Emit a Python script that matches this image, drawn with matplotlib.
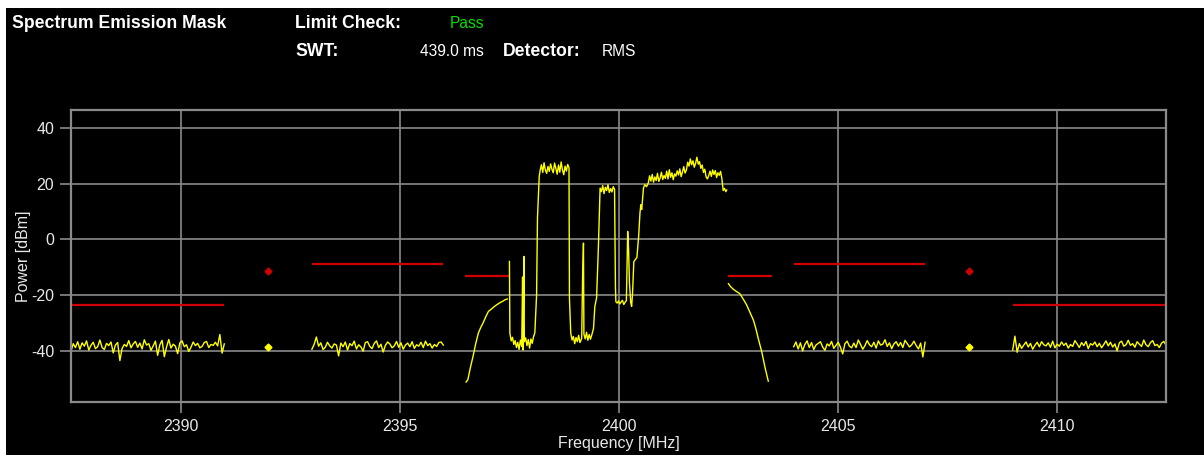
import numpy as np
import matplotlib
matplotlib.use("Agg")
import matplotlib.pyplot as plt
from matplotlib.patches import Rectangle

plt.rcParams['font.family'] = ['Liberation Sans', 'DejaVu Sans']

# ---------------- data ----------------
x_ticks = [2390, 2395, 2400, 2405, 2410]
y_ticks = [-40, -20, 0, 20, 40]

# limit (mask) lines: (start, stop, level)
mask_start = [2387.5, 2393.0, 2396.5, 2402.5, 2404.0, 2409.0]
mask_stop = [2391.0, 2396.0, 2397.5, 2403.5, 2407.0, 2412.5]
mask_level = [-23.5, -8.7, -13.0, -13.0, -8.7, -23.5]

# single-point ranges
point_freq = [2392.0, 2408.0]
point_limit = [-11.3, -11.3]
point_power = [-38.6, -38.6]

# trace segments (uniform sweep points)
segA_range = (2387.5, 2391.0)
segA = [-40.2, -37.5, -38.9, -36.8, -39.5, -37.2, -38.4, -36.5, -39.8, -38.1, -37.0, -39.3, -38.6, -36.2,
        -38.9, -39.6, -37.4, -38.2, -36.9, -40.8, -38.0, -37.1, -43.6, -39.2, -37.8, -38.5, -36.4, -39.0,
        -37.6, -36.7, -38.8, -37.3, -39.4, -36.1, -38.0, -37.5, -39.9, -38.3, -36.6, -41.7, -37.9, -36.3,
        -42.2, -38.7, -36.0, -39.1, -37.7, -38.4, -41.1, -37.2, -36.5, -38.6, -37.9, -40.3, -38.8, -36.9,
        -38.2, -37.4, -39.0, -38.5, -37.1, -36.7, -38.9, -37.8, -38.1, -37.0, -38.3, -34.2, -40.9, -37.6]

segB_range = (2393.0, 2396.0)
segB = [-39.5, -37.8, -35.1, -38.4, -37.2, -39.6, -38.8, -37.0, -38.3, -39.1, -37.6, -38.0, -41.9, -37.3,
        -38.6, -36.9, -39.8, -37.5, -38.2, -36.6, -39.4, -37.9, -38.7, -40.2, -37.1, -36.8, -38.5, -39.3,
        -37.4, -36.5, -38.9, -37.7, -40.5, -38.1, -36.9, -37.6, -39.0, -38.3, -36.7, -38.8, -37.2, -39.5,
        -38.0, -37.3, -38.6, -36.8, -39.2, -37.9, -38.4, -37.0, -38.9, -36.6, -38.2, -37.5, -39.1, -37.8,
        -38.5, -37.1, -36.9, -38.0]

segC_range = (2404.0, 2407.0)
segC = [-38.6, -36.9, -39.4, -37.2, -40.1, -37.8, -36.5, -38.9, -37.1, -39.6, -38.0, -37.4, -36.8, -38.7,
        -39.9, -37.6, -38.3, -36.7, -39.2, -38.1, -37.0, -38.8, -41.2, -37.5, -36.6, -38.4, -39.0, -37.3,
        -38.9, -36.2, -37.8, -39.5, -38.2, -36.4, -37.9, -38.6, -37.0, -39.1, -36.5, -38.0, -37.7, -36.1,
        -38.5, -37.2, -39.3, -37.6, -36.8, -38.4, -37.1, -38.9, -36.3, -37.5, -38.7, -37.9, -36.6, -38.2,
        -39.4, -37.3, -42.3, -37.0]

segD_range = (2409.0, 2412.5)
segD = [-39.8, -34.8, -40.6, -37.5, -39.2, -38.0, -36.9, -38.7, -37.4, -39.5, -38.1, -37.0, -38.6, -36.8,
        -37.9, -38.3, -37.2, -38.8, -36.6, -39.0, -37.7, -38.4, -36.9, -38.1, -37.3, -39.1, -37.8, -38.5,
        -36.4, -37.6, -38.9, -37.1, -38.2, -36.7, -39.3, -37.5, -38.0, -36.9, -38.6, -37.4, -39.0, -37.8,
        -36.5, -38.3, -37.0, -38.7, -37.6, -40.1, -37.2, -36.6, -38.4, -37.9, -36.3, -38.1, -37.5, -38.8,
        -36.8, -37.7, -38.5, -36.2, -37.9, -38.6, -37.1, -36.4, -38.2, -37.8, -38.9, -37.3, -36.7, -38.0]

# left filter skirt
rampL_f = [2396.52, 2396.56, 2396.62, 2396.68, 2396.74, 2396.80, 2396.86, 2396.91, 2396.97, 2397.03,
           2397.10, 2397.16, 2397.22, 2397.29, 2397.35, 2397.41, 2397.46]
rampL_p = [-51.3, -50.5, -46.0, -42.0, -37.5, -33.7, -31.5, -30.0, -27.8, -25.9,
           -25.0, -24.2, -23.5, -22.8, -22.3, -21.7, -21.4]

# right filter skirt
rampR_f = [2402.51, 2402.56, 2402.62, 2402.70, 2402.77, 2402.85, 2402.93, 2403.00, 2403.08, 2403.14,
           2403.19, 2403.27, 2403.35, 2403.42]
rampR_p = [-15.9, -17.0, -17.9, -18.8, -19.5, -21.5, -23.7, -26.2, -29.0, -32.3,
           -35.6, -40.4, -46.4, -51.0]

# in-band signal
sig_f = [2397.51, 2397.52, 2397.55, 2397.58, 2397.61, 2397.64, 2397.67, 2397.70, 2397.73, 2397.76,
         2397.79, 2397.81, 2397.82, 2397.84, 2397.85, 2397.88, 2397.91, 2397.94, 2397.97, 2398.00,
         2398.03, 2398.06, 2398.09, 2398.13, 2398.15, 2398.19, 2398.21, 2398.24, 2398.27, 2398.30,
         2398.33, 2398.36, 2398.39, 2398.42, 2398.45, 2398.48, 2398.51, 2398.54, 2398.57, 2398.60,
         2398.63, 2398.66, 2398.69, 2398.72, 2398.75, 2398.78, 2398.81, 2398.84, 2398.87, 2398.88,
         2398.91, 2398.94, 2398.97, 2399.00, 2399.03, 2399.06, 2399.09, 2399.12, 2399.16, 2399.18,
         2399.20, 2399.21, 2399.24, 2399.27, 2399.30, 2399.33, 2399.36, 2399.40, 2399.43, 2399.46,
         2399.50, 2399.54, 2399.58, 2399.61, 2399.64, 2399.67, 2399.70, 2399.73, 2399.76, 2399.79,
         2399.82, 2399.85, 2399.88, 2399.91, 2399.93, 2399.94, 2399.97, 2400.00, 2400.03, 2400.06,
         2400.09, 2400.12, 2400.15, 2400.18, 2400.21, 2400.23, 2400.25, 2400.28, 2400.30, 2400.32,
         2400.35, 2400.38, 2400.42, 2400.46, 2400.49, 2400.51, 2400.53, 2400.57, 2400.60, 2400.64,
         2400.68, 2400.71, 2400.74, 2400.77, 2400.80, 2400.83, 2400.86, 2400.89, 2400.92, 2400.95,
         2400.98, 2401.01, 2401.04, 2401.07, 2401.10, 2401.13, 2401.16, 2401.19, 2401.22, 2401.25,
         2401.28, 2401.31, 2401.34, 2401.37, 2401.40, 2401.43, 2401.46, 2401.49, 2401.52, 2401.55,
         2401.58, 2401.61, 2401.64, 2401.67, 2401.70, 2401.73, 2401.76, 2401.79, 2401.82, 2401.85,
         2401.88, 2401.91, 2401.94, 2401.97, 2402.00, 2402.03, 2402.06, 2402.09, 2402.12, 2402.15,
         2402.18, 2402.21, 2402.24, 2402.27, 2402.30, 2402.33, 2402.36, 2402.39, 2402.42, 2402.45,
         2402.47]
sig_p = [-7.9, -33.7, -36.5, -35.2, -37.8, -36.4, -38.9, -37.0, -39.6, -36.2,
         -38.5, -13.5, -39.8, -6.1, -36.8, -35.4, -38.2, -36.0, -39.1, -35.8,
         -37.4, -35.0, -33.6, -19.9, 7.7, 22.7, 24.8, 26.9, 24.1, 27.6,
         25.0, 23.8, 26.3, 24.5, 27.2, 25.3, 24.0, 27.5, 25.6, 23.5,
         26.8, 24.2, 27.9, 25.1, 23.3, 26.4, 24.6, 27.0, 25.8, -21.1,
         -33.7, -36.2, -34.9, -37.5, -35.3, -36.8, -34.5, -37.1, -35.6, -13.7,
         -1.3, -34.0, -35.8, -33.4, -36.3, -34.2, -35.9, -33.8, -32.0, -24.1,
         -21.0, -3.1, 18.5, 17.2, 19.4, 16.5, 18.8, 17.6, 19.7, 16.9,
         18.3, 17.1, 19.0, 18.0, -16.9, -22.4, -22.9, -22.1, -23.2, -22.5,
         -21.9, -23.4, -22.6, -22.0, 2.9, -3.7, -15.7, -22.8, -24.1, -19.5,
         -8.0, -7.3, -6.5, 1.1, 9.5, 12.5, 10.8, 18.5, 19.7, 19.0,
         20.3, 22.9, 21.0, 23.4, 20.6, 22.5, 21.2, 23.8, 20.9, 22.1,
         24.2, 21.6, 23.0, 22.0, 24.6, 21.8, 25.1, 22.4, 24.0, 21.5,
         23.6, 22.8, 24.7, 23.2, 25.4, 22.6, 24.3, 26.2, 23.9, 25.0,
         27.8, 26.4, 29.0, 26.9, 28.3, 26.0, 27.4, 29.6, 27.1, 28.0,
         25.6, 26.8, 24.1, 25.3, 22.5, 21.8, 23.0, 24.6, 22.7, 25.0,
         23.4, 24.8, 22.3, 24.0, 23.1, 24.5, 21.9, 17.6, 18.4, 17.2,
         17.8]

# ---------------- figure ----------------
W, H = 1204, 455
fig = plt.figure(figsize=(W / 100, H / 100), dpi=100, facecolor='white')
fig.add_artist(Rectangle((6 / W, 0), 1 - 6 / W, 1 - 8 / H, transform=fig.transFigure,
                         facecolor='black', edgecolor='none', zorder=-10))

ax = fig.add_axes([71 / W, 1 - 402 / H, (1166 - 71) / W, (402 - 110) / H])
ax.set_facecolor('black')
grid_c = '#8a8a8a'
for s in ax.spines.values():
    s.set_color(grid_c)
    s.set_linewidth(1.6)

ax.set_xlim(2387.5, 2412.5)
ax.set_ylim(-58.5, 46.6)
ax.set_xticks(x_ticks)
ax.set_yticks(y_ticks)
ax.set_xticklabels([str(v) for v in x_ticks])
ax.set_yticklabels([str(v) for v in y_ticks])
ax.tick_params(direction='out', length=8, width=1.2, color=grid_c, labelcolor='#e8e8e8',
               labelsize=11.5, pad=4)
ax.grid(True, color=grid_c, linewidth=1.2)
ax.set_axisbelow(True)

ax.set_xlabel('Frequency [MHz]', color='#e8e8e8', fontsize=11.5, labelpad=2)
ax.set_ylabel('Power [dBm]', color='#e8e8e8', fontsize=11.5, labelpad=0)

yel = '#ffff00'
red = '#d00000'
lw_t = 1.0

# mask lines
for a, b, lv in zip(mask_start, mask_stop, mask_level):
    ax.plot([a, b], [lv, lv], color=red, linewidth=1.6, solid_capstyle='butt')
ax.plot(point_freq, point_limit, linestyle='none', marker='D', markersize=3.5, color=red)

# traces
for rng, seg in [(segA_range, segA), (segB_range, segB), (segC_range, segC), (segD_range, segD)]:
    f = np.linspace(rng[0], rng[1], len(seg))
    ax.plot(f, seg, color=yel, linewidth=lw_t)
ax.plot(rampL_f, rampL_p, color=yel, linewidth=lw_t)
ax.plot(rampR_f, rampR_p, color=yel, linewidth=lw_t)
ax.plot(sig_f, sig_p, color=yel, linewidth=lw_t)
ax.plot(point_freq, point_power, linestyle='none', marker='D', markersize=3.5, color=yel)

# header
hdr_font = ['Liberation Sans', 'DejaVu Sans']
def htxt(x, y, s, bold=False, color='white', size=None):
    if size is None:
        size = 12.7 if bold else 11.2
    fig.text(x / W, 1 - y / H, s, color=color, fontsize=size, family=hdr_font,
             fontweight='bold' if bold else 'normal', ha='left', va='center')

htxt(12, 23, 'Spectrum Emission Mask', bold=True)
htxt(295, 23, 'Limit Check:', bold=True)
htxt(450, 24, 'Pass', color='#00e000')
htxt(295, 51, 'SWT:', bold=True)
htxt(420, 51, '439.0 ms')
htxt(503, 51, 'Detector:', bold=True)
htxt(602, 51, 'RMS')

fig.savefig('out.png', dpi=100, facecolor=fig.get_facecolor())
